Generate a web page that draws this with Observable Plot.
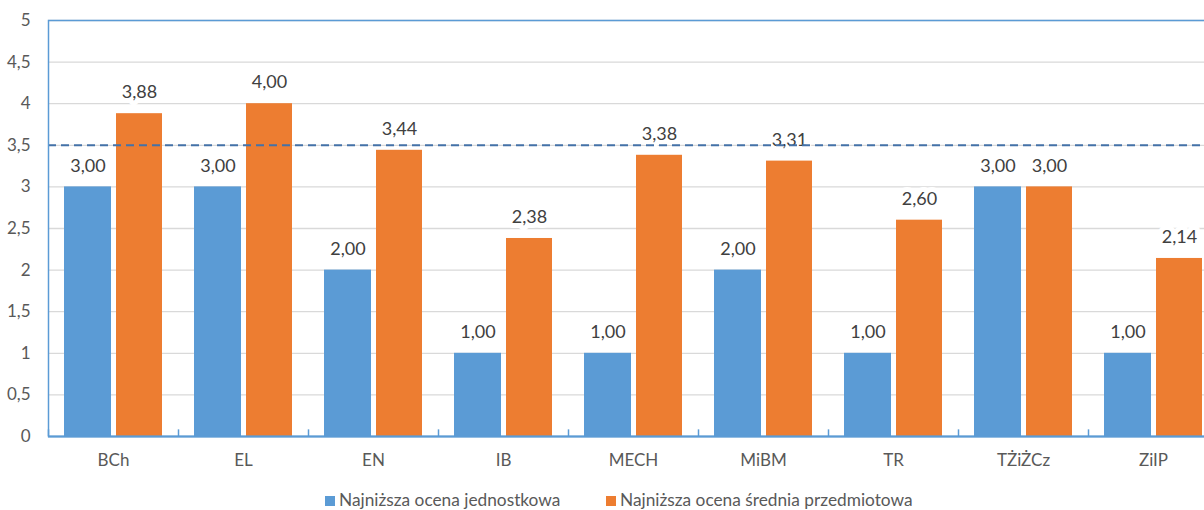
<!DOCTYPE html>
<html>
<head>
<meta charset="utf-8">
<script src="https://cdn.jsdelivr.net/npm/d3@7"></script>
<script src="https://cdn.jsdelivr.net/npm/@observablehq/plot@0.6"></script>
<style>
  html, body { margin: 0; padding: 0; background: white; overflow: hidden; }
  #wrap { position: relative; width: 1204px; height: 510px; overflow: hidden; font-family: Lato, "Open Sans", sans-serif; }
  #chart svg { max-width: none !important; }
  .legend { position: absolute; top: 490px; font-size: 17.3px; color: #595959; white-space: nowrap; line-height: 20px; }
  .legend span.sw { display: inline-block; width: 10px; height: 10px; margin-right: 4px; vertical-align: 0px; }
</style>
</head>
<body>
<div id="wrap">
  <div id="chart"></div>
  <div class="legend" id="lg1" style="left:325px"><span class="sw" style="background:#5b9bd5"></span>Najniższa ocena jednostkowa</div>
  <div class="legend" id="lg2" style="left:606px"><span class="sw" style="background:#ed7d31"></span>Najniższa ocena średnia przedmiotowa</div>
</div>
<script>
const categories = ["BCh", "EL", "EN", "IB", "MECH", "MiBM", "TR", "TŻiŻCz", "ZiIP"];
const unitGrade = [3.00, 3.00, 2.00, 1.00, 1.00, 2.00, 1.00, 3.00, 1.00];
const avgGrade = [3.88, 4.00, 3.44, 2.38, 3.38, 3.31, 2.60, 3.00, 2.14];
const yTicks = [0, 0.5, 1, 1.5, 2, 2.5, 3, 3.5, 4, 4.5, 5];
const threshold = [3.5];
const seriesNames = ["Najniższa ocena jednostkowa", "Najniższa ocena średnia przedmiotowa"];

const blueRows = categories.map((c, i) => ({cat: c, v: unitGrade[i]}));
const orangeRows = categories.map((c, i) => ({cat: c, v: avgGrade[i]}));
const fmt = v => v.toFixed(2).replace(".", ",");
const fmtTick = v => String(v).replace(".", ",");

const chart = Plot.plot({
  width: 1218,
  height: 480,
  marginLeft: 48,
  marginRight: 0,
  marginTop: 20,
  marginBottom: 44,
  style: {fontFamily: "Lato, 'Open Sans', sans-serif", fontSize: "17px", color: "#595959", background: "white"},
  x: {domain: categories, padding: 0, tickSize: 0, tickPadding: 17, label: null},
  y: {domain: [0, 5], ticks: yTicks, tickFormat: fmtTick, tickSize: 0, tickPadding: 18, label: null},
  marks: [
    Plot.ruleY(yTicks, {stroke: "#d9d9d9", strokeWidth: 1.3}),
    Plot.barY(blueRows, {x: "cat", y: "v", fill: "#5b9bd5", insetLeft: 16, insetRight: 67}),
    Plot.barY(orangeRows, {x: "cat", y: "v", fill: "#ed7d31", insetLeft: 68, insetRight: 16}),
    Plot.text(blueRows, {x: "cat", y: "v", text: d => fmt(d.v), dx: -25.5, dy: -21, fontSize: 18, fill: "#404040", stroke: "white", strokeWidth: 10}),
    Plot.text(orangeRows, {x: "cat", y: "v", text: d => fmt(d.v), dx: 26, dy: -21, fontSize: 18, fill: "#404040", stroke: "white", strokeWidth: 10}),
    Plot.ruleY(threshold, {stroke: "#4472a8", strokeWidth: 2, strokeDasharray: "8,5"}),
    Plot.ruleX(categories, {x: d => d, dx: -65, y1: 0, y2: 0.08, stroke: "#5b9bd5", strokeWidth: 1.5}),
    Plot.frame({stroke: "#5b9bd5", strokeWidth: 1.5}),
    Plot.ruleY([0], {stroke: "#5b9bd5", strokeWidth: 2})
  ]
});
document.getElementById("chart").appendChild(chart);
</script>
</body>
</html>
